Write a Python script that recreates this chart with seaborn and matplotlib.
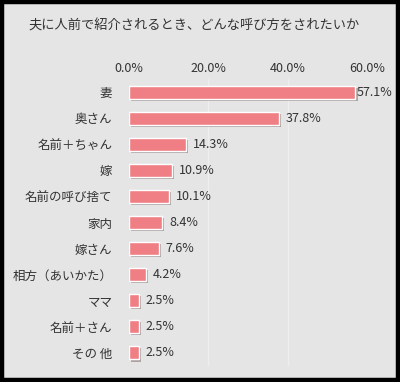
import matplotlib
matplotlib.use("Agg")
import matplotlib.pyplot as plt
import matplotlib.patheffects as pe
from matplotlib.patches import Rectangle
import pandas as pd
import seaborn as sns

categories = ["妻", "奥さん", "名前＋ちゃん", "嫁", "名前の呼び捨て", "家内",
              "嫁さん", "相方（あいかた）", "ママ", "名前＋さん", "その 他"]
values = [57.1, 37.8, 14.3, 10.9, 10.1, 8.4, 7.6, 4.2, 2.5, 2.5, 2.5]
ticks = [0, 20, 40, 60]
title = "夫に人前で紹介されるとき、どんな呼び方をされたいか"

df = pd.DataFrame({"name": categories, "pct": values})

sns.set_theme(style="white")
plt.rcParams["font.family"] = ["Noto Sans CJK JP", "DejaVu Sans"]

bg = "#e5e5e5"
fig = plt.figure(figsize=(4.0, 3.82), dpi=100, facecolor="white")
fig.patches.append(Rectangle((0.005, 0.005), 0.99, 0.99, transform=fig.transFigure,
                             facecolor=bg, edgecolor="black", linewidth=3.2, zorder=-10))
ax = fig.add_axes([0.3225, 0.042, 0.595, 0.751])
ax.set_facecolor(bg)

sns.barplot(data=df, x="pct", y="name", orient="h", color="#ef7f85",
            width=0.5, saturation=1, ax=ax)
for bar in ax.patches:
    bar.set_path_effects([pe.SimplePatchShadow(offset=(1.5, -1.5), alpha=0.35),
                          pe.Normal()])

for i, v in enumerate(values):
    x = v + 1.7 if v < 55 else v + 0.2
    ax.text(x, i, f"{v:.1f}%", va="center", ha="left", fontsize=9, color="#333333")

ax.set_xlim(0, 60)
ax.set_ylim(10.5, -0.5)
ax.set_xticks(ticks)
ax.set_xticklabels([f"{t:.1f}%" for t in ticks])
ax.xaxis.tick_top()
ax.tick_params(axis="x", length=0, pad=3, labelsize=9, labelcolor="#333333")
ax.tick_params(axis="y", length=0, pad=12, labelsize=9, labelcolor="#333333")
ax.set_xlabel("")
ax.set_ylabel("")
for x in ticks[1:]:
    ax.axvline(x, color="#eeeeee", linewidth=1, zorder=0)
for s in ax.spines.values():
    s.set_visible(False)

fig.text(0.07, 0.932, title, fontsize=9.5, color="#333333", va="center", ha="left")

fig.savefig("out.png", dpi=100, facecolor="white")
